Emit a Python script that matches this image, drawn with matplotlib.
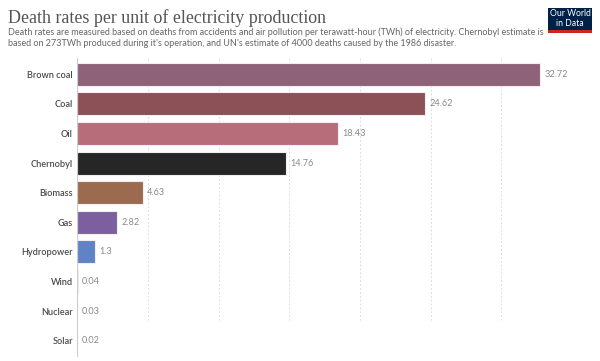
import matplotlib.pyplot as plt
from matplotlib.patches import Rectangle

sources = ["Brown coal", "Coal", "Oil", "Chernobyl", "Biomass", "Gas",
           "Hydropower", "Wind", "Nuclear", "Solar"]
death_rates = [32.72, 24.62, 18.43, 14.76, 4.63, 2.82, 1.3, 0.04, 0.03, 0.02]
value_labels = ["32.72", "24.62", "18.43", "14.76", "4.63", "2.82", "1.3",
                "0.04", "0.03", "0.02"]
colors = ["#8e6279", "#8b5157", "#b86e7a", "#262626", "#9c6b4f", "#7d5fa0",
          "#5f83c5", "#7e8aa8", "#9fb0bd", "#e0b9b9"]

fig = plt.figure(figsize=(6, 3.61), dpi=100)
fig.patch.set_facecolor("white")

# axes: x=0 at pixel 77, 14.15 px per unit
ax = fig.add_axes([77 / 600, 1 - 357 / 361, 513 / 600, (357 - 58) / 361])
xmax = 513 / 14.15
ax.set_xlim(0, xmax)

n = len(sources)
ypos = list(range(n))
ax.barh(ypos, death_rates, height=0.78, color=colors,
        edgecolor="#f2eef0", linewidth=0.8, zorder=3)
ax.set_ylim(n - 0.45, -0.55)

for y, v, lab in zip(ypos, death_rates, value_labels):
    ax.text(v + 0.3, y, lab, va="center", ha="left", fontsize=6.6,
            color="#8a8a8a", family="Lato")

# dotted gridlines
for gx in [5, 10, 15, 20, 25, 30]:
    ax.plot([gx, gx], [-0.55, 8.3], color="#dddddd", linewidth=0.7,
            linestyle=(0, (2, 2)), zorder=1)
ax.plot([0, 0], [-0.55, n - 0.45], color="#cccccc", linewidth=0.8, zorder=4)

ax.set_yticks(ypos)
ax.set_yticklabels(sources, fontsize=6.6, color="#4a4a4a", family="Lato",
                   fontweight="semibold")
ax.tick_params(axis="y", length=0, pad=3)
ax.set_xticks([])
for s in ax.spines.values():
    s.set_visible(False)

fig.text(8 / 600, 1 - 18 / 361, "Death rates per unit of electricity production",
         fontsize=12.9, color="#555555", family="Liberation Serif", va="center")
fig.text(8 / 600, 1 - 32 / 361,
         "Death rates are measured based on deaths from accidents and air pollution per terawatt-hour (TWh) of electricity. Chernobyl estimate is",
         fontsize=6.45, color="#666666", family="Lato", va="center")
fig.text(8 / 600, 1 - 43 / 361,
         "based on 273TWh produced during it's operation, and UN's estimate of 4000 deaths caused by the 1986 disaster.",
         fontsize=6.45, color="#666666", family="Lato", va="center")

# logo
lx, ly, lw, lh = 548 / 600, 1 - 33 / 361, 44 / 600, 25 / 361
fig.patches.append(Rectangle((lx, ly), lw, lh, transform=fig.transFigure,
                             facecolor="#002147", edgecolor="none"))
fig.patches.append(Rectangle((lx, ly), lw, 2.5 / 361, transform=fig.transFigure,
                             facecolor="#ce261e", edgecolor="none"))
fig.text(lx + lw / 2, ly + lh * 0.58, "Our World\nin Data", ha="center",
         va="center", fontsize=6.2, color="white", family="Lato",
         linespacing=1.0)

fig.savefig("out.png", dpi=100)
